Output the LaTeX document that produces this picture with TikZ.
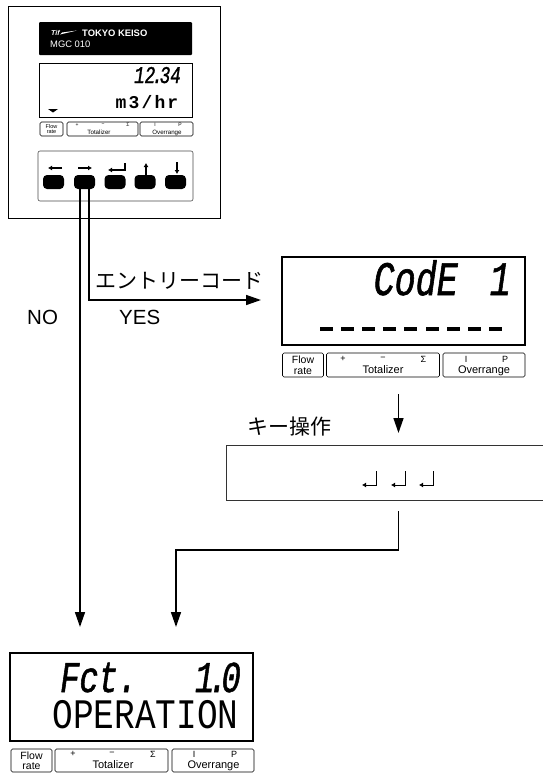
\documentclass[tikz,border=0pt]{standalone}
\usepackage{fontspec}
\setmainfont{Liberation Sans}
\newfontfamily\cjk{Noto Sans CJK JP}
\newfontfamily\segfont[FakeStretch=0.73,FakeBold=1.2]{Liberation Mono}
\newfontfamily\thinfont[FakeStretch=0.82]{Liberation Mono}
\newfontfamily\unitfont[LetterSpace=12]{Liberation Mono}
\usetikzlibrary{arrows.meta}
\tikzset{
  frame/.style={draw=black,line width=1pt,fill=white},
  flow/.style={draw=black,line width=1.5pt},
  flow arrow/.style={flow,-{Triangle[length=15pt,width=10pt]}},
  legend box/.style={draw=black,line width=0.6pt,rounded corners=1.5pt},
  legend text/.style={font=\fontsize{11}{11}\selectfont,inner sep=0pt,anchor=base},
  legend sign/.style={font=\fontsize{9}{9}\selectfont,inner sep=0pt},
  small text/.style={font=\fontsize{6.2}{6.2}\selectfont,inner sep=0pt,anchor=base},
  small sign/.style={font=\fontsize{5}{5}\selectfont,inner sep=0pt},
  key/.style={fill=black,rounded corners=4pt,minimum width=21pt,minimum height=14pt,inner sep=0pt},
  key sign/.style={draw=black,line width=1.5pt,-{Latex[length=4pt,width=5pt]}},
  enter sign/.style={draw=black,line width=1pt,-{Latex[length=4pt,width=5pt]}},
  label/.style={font=\fontsize{20.5}{20.5}\selectfont,inner sep=0pt},
  jlabel/.style={font=\cjk\fontsize{21}{21}\selectfont,inner sep=0pt},
  seg/.style={inner sep=0pt}
}
\begin{document}
\begin{tikzpicture}[x=1pt,y=-1pt]
  \useasboundingbox (0,0) rectangle (543,774);
  % front panel
  \node[frame,minimum width=212.5pt,minimum height=212pt,inner sep=0pt] (panel) at (114.4,112) {};
  \node[fill=black,rounded corners=1pt,minimum width=153pt,minimum height=33pt,inner sep=0pt] (maker) at (115.5,38.5) {};
  \node[text=white,font=\bfseries\fontsize{9.4}{9.4}\selectfont,inner sep=0pt,anchor=west] (makername) at (82,33) {TOKYO KEISO};
  \node[text=white,font=\fontsize{9.4}{9.4}\selectfont,inner sep=0pt,anchor=west] (model) at (50,44) {MGC 010};
  \node[text=white,font=\bfseries\itshape\fontsize{7}{7}\selectfont,inner sep=0pt,anchor=west] (logo) at (51,33) {Tif};
  \fill[white] (60,34.5) -- (77,30.5) -- (62,32.5) -- cycle;
  \node[draw=black,line width=0.8pt,minimum width=153pt,minimum height=54pt,inner sep=0pt] (paneldisp) at (115.5,90) {};
  \node[seg,font=\segfont\itshape\fontsize{24}{24}\selectfont,anchor=base east] (rate) at (181,83) {12\kern-3pt.\kern-3pt 34};
  \node[font=\unitfont\bfseries\fontsize{18}{18}\selectfont,inner sep=0pt,anchor=base east] (unit) at (178.5,108) {m3/hr};
  \fill (48,109) -- (58,109) -- (53,112.5) -- cycle;
  % panel legend
  \node[legend box,minimum width=23pt,minimum height=14pt,inner sep=0pt,align=center,font=\fontsize{5.5}{5.5}\selectfont] (pflow) at (51.5,129) {Flow\\rate};
  \node[legend box,minimum width=71pt,minimum height=14pt,inner sep=0pt] (ptotal) at (102.5,129) {};
  \node[legend box,minimum width=53pt,minimum height=14pt,inner sep=0pt] (pover) at (166.5,129) {};
  \node[small text] (ptotaltext) at (99,134.5) {Totalizer};
  \node[small text] (povertext) at (167,134.5) {Overrange};
  \node[small sign] (pplus) at (77,125) {+};
  \node[small sign] (pminus) at (103,125) {−};
  \node[small sign] (psum) at (128,125) {Σ};
  \node[small sign] (pi) at (155,125) {I};
  \node[small sign] (pp) at (180,125) {P};
  % keypad
  \node[draw=black!70,line width=0.6pt,rounded corners=2pt,minimum width=155pt,minimum height=50pt,inner sep=0pt] (keypad) at (115.5,176) {};
  \foreach \k/\kx in {left/53.5,right/84.5,enter/115,up/145,down/175.5}
    \node[key] (\k) at (\kx,182) {};
  \draw[key sign] (62,168) -- (48,168);
  \draw[key sign] (78,168) -- (92,168);
  \draw[key sign] (125,163) -- (125,170) -- (108,170);
  \draw[key sign] (146,175) -- (146,163);
  \draw[key sign] (177,162) -- (177,174);
  % second display
  \node[frame,line width=1.3pt,minimum width=243pt,minimum height=88pt,inner sep=0pt] (codedisp) at (403.5,301) {};
  \node[seg,font=\segfont\itshape\fontsize{48}{48}\selectfont,anchor=base east] (code) at (511,295) {CodE\hspace{11pt} 1};
  \foreach \d in {0,...,8}
    \fill (320+21.1*\d,327) rectangle ++(13,4);
  \node[legend box,minimum width=41pt,minimum height=24pt,inner sep=0pt,align=center,font=\fontsize{10.5}{10.5}\selectfont] (cflow) at (303,365) {Flow\\rate};
  \node[legend box,minimum width=113pt,minimum height=24pt,inner sep=0pt] (ctotal) at (383,365) {};
  \node[legend box,minimum width=82pt,minimum height=24pt,inner sep=0pt] (cover) at (484,365) {};
  \node[legend text] (ctotaltext) at (383,373) {Totalizer};
  \node[legend text] (covertext) at (484,373) {Overrange};
  \node[legend sign] (cplus) at (343,359) {+};
  \node[legend sign] (cminus) at (383,359) {−};
  \node[legend sign] (csum) at (423.5,359) {Σ};
  \node[legend sign] (ci) at (466,359) {I};
  \node[legend sign] (cp) at (505,359) {P};
  \coordinate (codeout) at (398.5,394);
  \coordinate (opin) at (398.5,433);
  \draw[flow arrow] (codeout) -- (opin);
  \node[jlabel,anchor=west] (keyop) at (247,427) {キー操作};
  % key operation box
  \draw[frame,draw=black!80] (543,445.5) -- (226,445.5) -- (226,500.7) -- (543,500.7);
  \foreach \e/\ex in {a/362,b/391,c/419}
    \draw[enter sign] (\ex+14.5,471) -- (\ex+14.5,485) -- (\ex,485);
  % third display
  \node[frame,line width=1.3pt,minimum width=243pt,minimum height=88pt,inner sep=0pt] (fctdisp) at (131.5,697) {};
  \node[seg,font=\segfont\itshape\fontsize{44}{44}\selectfont,anchor=base west] (fct) at (60,692) {Fct.};
  \node[seg,font=\segfont\itshape\fontsize{44}{44}\selectfont,anchor=base east] (fctno) at (241,692) {1\kern-6pt.\kern-6pt 0};
  \node[font=\thinfont\fontsize{42}{42}\selectfont,inner sep=0pt,anchor=base] (opname) at (145.5,728) {OPERATION};
  \node[legend box,minimum width=41pt,minimum height=23pt,inner sep=0pt,align=center,font=\fontsize{10.5}{10.5}\selectfont] (fflow) at (31.5,760.5) {Flow\\rate};
  \node[legend box,minimum width=113pt,minimum height=23pt,inner sep=0pt] (ftotal) at (111.5,760.5) {};
  \node[legend box,minimum width=82pt,minimum height=23pt,inner sep=0pt] (fover) at (213,760.5) {};
  \node[legend text] (ftotaltext) at (113,768) {Totalizer};
  \node[legend text] (fovertext) at (213.5,768) {Overrange};
  \node[legend sign] (fplus) at (73,754) {+};
  \node[legend sign] (fminus) at (112,754) {−};
  \node[legend sign] (fsum) at (153,754) {Σ};
  \node[legend sign] (fi) at (194,754) {I};
  \node[legend sign] (fp) at (234,754) {P};
  % flow lines
  \coordinate (noend) at (80,627);
  \coordinate (yesend) at (261,300);
  \coordinate (backstart) at (398.5,511);
  \coordinate (backend) at (176,627);
  \draw[flow arrow] (right.south -| noend) ++(0,-6) -- (noend);
  \draw[flow arrow] (89,182) |- (yesend);
  \draw[flow arrow] (backstart) |- (backend |- 0,550) -- (backend);
  \node[label,anchor=west] (no) at (27,317) {NO};
  \node[label,anchor=west] (yes) at (119,317) {YES};
  \node[jlabel,anchor=west] (entry) at (95,281) {エントリーコード};
\end{tikzpicture}
\end{document}
